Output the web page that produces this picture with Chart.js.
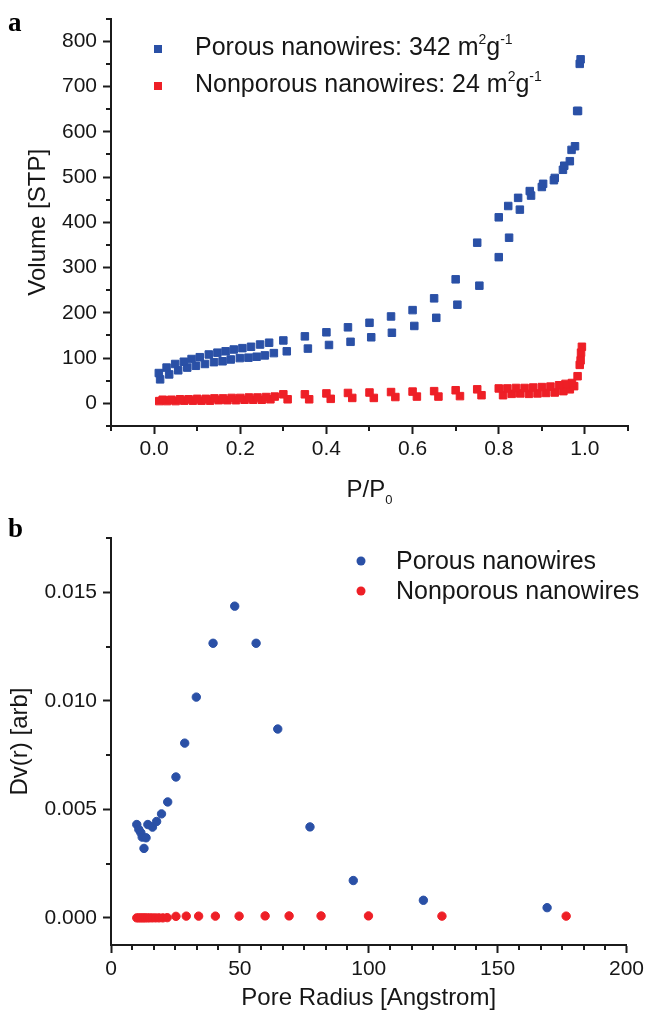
<!DOCTYPE html>
<html lang="en">
  <head>
    <meta charset="UTF-8" />
    <title>Nanowire N2 isotherms and pore size distribution</title>
    <script src="https://cdn.jsdelivr.net/npm/chart.js"></script>
    <style>
      body { margin: 0; background: #fff; }
      #wrap { position: relative; width: 648px; height: 1019px; }
      canvas { position: absolute; left: 0; }
      #isothermChart { top: 0; }
      #poreChart { top: 500px; }
    </style>
  </head>
  <body>
    <div id="wrap">
      <canvas id="isothermChart" width="648" height="520"></canvas>
      <canvas id="poreChart" width="648" height="519"></canvas>
    </div>
    <script>
      // --- panel a: N2 isotherms (P/P0 vs volume) ---
      const porousAdsP = [0.014, 0.035, 0.056, 0.077, 0.097, 0.118, 0.139, 0.159, 0.178, 0.199, 0.219, 0.238, 0.257, 0.278, 0.308, 0.357, 0.406, 0.456, 0.504, 0.552, 0.604, 0.655, 0.704, 0.755, 0.80, 0.824, 0.849, 0.875, 0.90, 0.928, 0.949, 0.965, 0.977, 0.984, 0.988];
      const porousAdsV = [53, 64, 73, 79, 83, 87, 91, 93, 97, 100, 101, 103, 106, 111, 115, 121, 129, 136, 146, 156, 171, 189, 218, 260, 323, 366, 428, 459, 478, 493, 516, 535, 568, 646, 750];
      const porousDesP = [0.99, 0.982, 0.969, 0.952, 0.93, 0.903, 0.872, 0.845, 0.822, 0.80, 0.75, 0.70, 0.65, 0.60, 0.55, 0.50, 0.45, 0.40, 0.35, 0.30, 0.267, 0.246, 0.225, 0.205, 0.185, 0.166, 0.147, 0.127, 0.106, 0.087, 0.069, 0.049, 0.029, 0.011];
      const porousDesV = [760, 646, 560, 525, 498, 485, 469, 454, 436, 411, 355, 274, 232, 206, 192, 178, 168, 157, 148, 139, 134, 130, 125, 122, 119, 115, 112, 108, 102, 98, 92, 87, 79, 67];

      const nonAdsP = [0.012, 0.03, 0.05, 0.07, 0.09, 0.11, 0.13, 0.15, 0.17, 0.19, 0.21, 0.23, 0.25, 0.27, 0.31, 0.36, 0.41, 0.46, 0.51, 0.56, 0.61, 0.66, 0.71, 0.76, 0.81, 0.83, 0.85, 0.87, 0.89, 0.91, 0.93, 0.95, 0.965, 0.975, 0.983, 0.988, 0.991];
      const nonAdsV = [5, 5, 5, 6, 6, 6, 6, 7, 7, 7, 8, 8, 8, 9, 9, 9, 10, 12, 12, 14, 15, 15, 16, 18, 18, 21, 22, 21, 22, 23, 24, 27, 31, 38, 60, 85, 112];
      const nonDesP = [0.993, 0.99, 0.97, 0.955, 0.94, 0.92, 0.90, 0.88, 0.86, 0.84, 0.82, 0.80, 0.75, 0.70, 0.65, 0.60, 0.55, 0.50, 0.45, 0.40, 0.35, 0.30, 0.28, 0.26, 0.24, 0.22, 0.20, 0.18, 0.16, 0.14, 0.12, 0.10, 0.08, 0.06, 0.04, 0.02];
      const nonDesV = [125, 95, 45, 43, 40, 37, 36, 35, 34, 34, 33, 33, 31, 29, 27, 26, 25, 24, 23, 22, 20, 20, 15, 14, 13, 13, 12, 12, 11, 11, 10, 10, 9, 9, 8, 8];

      const xTicksA = [0, 0.2, 0.4, 0.6, 0.8, 1.0];
      const yTicksA = [0, 100, 200, 300, 400, 500, 600, 700, 800];
      const legendA = [
        ["Porous nanowires: 342 m", "2", "g", "-1"],
        ["Nonporous nanowires: 24 m", "2", "g", "-1"],
      ];

      // --- panel b: pore size distribution ---
      const porousR = [10, 10.8, 11.6, 12.1, 12.8, 13.6, 14.3, 16.1, 17.7, 19.6, 22, 25.2, 28.6, 33.1, 39.6, 48, 56.3, 64.7, 77.2, 94, 121.2, 169.2];
      const porousDv = [0.0043, 0.00407, 0.00392, 0.00372, 0.0032, 0.00369, 0.0043, 0.00418, 0.00444, 0.00479, 0.00534, 0.00649, 0.00805, 0.01017, 0.01265, 0.01436, 0.01265, 0.0087, 0.00419, 0.00172, 0.00081, 0.00047];
      const nonR = [10, 10.8, 11.6, 12.4, 13.2, 14.1, 15, 16.1, 17.3, 18.6, 20.1, 21.8, 25.2, 29.2, 34, 40.5, 49.7, 59.8, 69.1, 81.5, 99.9, 128.4, 176.6];
      const nonDv = [0, 0, 0, 0, 0, 0, 0, 0, 0, 0, 0, 0.00001, 0.00007, 0.00008, 0.00008, 0.00008, 0.00008, 0.00009, 0.00009, 0.00009, 0.00009, 0.00008, 0.00008];

      const xTicksB = [0, 50, 100, 150, 200];
      const yTicksB = [0, 0.005, 0.01, 0.015];
      const legendB = [["Porous nanowires"], ["Nonporous nanowires"]];

      const BLUE = "#2a50a6";
      const RED = "#ee1f26";
      const AXIS = "#1b1b1b";
      const TEXT = "#161616";
      const SANS = '"Liberation Sans", Arial, sans-serif';

      const pts = (xs, ys) => xs.map((x, i) => ({ x: x, y: ys[i] }));

      // text with alternating normal / raised (or lowered) pieces
      function drawRich(ctx, parts, x, y, size, shift, align) {
        const small = Math.round(size * 0.56);
        const fontFor = (i) => (i % 2 ? small : size) + "px " + SANS;
        let total = 0;
        parts.forEach((p, i) => {
          ctx.font = fontFor(i);
          total += ctx.measureText(p).width;
        });
        let cx = align === "center" ? x - total / 2 : x;
        ctx.textBaseline = "alphabetic";
        ctx.textAlign = "left";
        parts.forEach((p, i) => {
          ctx.font = fontFor(i);
          ctx.fillText(p, cx, i % 2 ? y + shift : y);
          cx += ctx.measureText(p).width;
        });
      }

      const overlay = {
        id: "overlay",
        afterDraw(chart, args, opts) {
          const { ctx, chartArea, scales } = chart;
          ctx.save();
          // minor ticks
          ctx.strokeStyle = AXIS;
          ctx.lineWidth = 2;
          ctx.beginPath();
          opts.minorX.forEach((v) => {
            const px = Math.round(scales.x.getPixelForValue(v));
            ctx.moveTo(px, chartArea.bottom);
            ctx.lineTo(px, chartArea.bottom + 5);
          });
          opts.minorY.forEach((v) => {
            const py = Math.round(scales.y.getPixelForValue(v));
            ctx.moveTo(chartArea.left, py);
            ctx.lineTo(chartArea.left - 5, py);
          });
          ctx.stroke();

          // legend
          ctx.fillStyle = TEXT;
          opts.legend.forEach((parts, i) => {
            const ds = chart.data.datasets[i];
            const my = opts.legendY[i];
            ctx.fillStyle = ds.backgroundColor;
            ctx.beginPath();
            if (ds.pointStyle === "rect") {
              ctx.rect(opts.markerX - 4, my - 4, 8, 8);
            } else {
              ctx.arc(opts.markerX, my, 4.5, 0, Math.PI * 2);
            }
            ctx.fill();
            ctx.fillStyle = TEXT;
            drawRich(ctx, parts, opts.textX, opts.textY[i], 25, -11, "left");
          });

          // axis title with subscript
          if (opts.xTitle) {
            ctx.fillStyle = TEXT;
            drawRich(ctx, opts.xTitle, (chartArea.left + chartArea.right) / 2, opts.xTitleY, 24, 7, "center");
          }

          // panel letter
          ctx.fillStyle = "#000";
          ctx.font = 'bold 27px "Liberation Serif", "Times New Roman", serif';
          ctx.textAlign = "left";
          ctx.textBaseline = "alphabetic";
          ctx.fillText(opts.letter, 8, opts.letterY);
          ctx.restore();
        },
      };

      function axisOpts(extra) {
        return Object.assign(
          {
            type: "linear",
            grid: { display: true, drawOnChartArea: false, drawTicks: true, tickLength: 8, tickWidth: 2, tickColor: AXIS },
            border: { display: true, width: 2, color: AXIS },
          },
          extra
        );
      }

      const tickFont = { family: SANS, size: 21 };
      const titleFont = { family: SANS, size: 24 };

      new Chart(document.getElementById("isothermChart"), {
        type: "scatter",
        data: {
          datasets: [
            {
              label: "Porous nanowires: 342 m²g⁻¹",
              data: pts(porousAdsP, porousAdsV).concat(pts(porousDesP, porousDesV)),
              pointStyle: "rect",
              pointRadius: 5.3,
              borderWidth: 1,
              backgroundColor: BLUE,
              borderColor: BLUE,
            },
            {
              label: "Nonporous nanowires: 24 m²g⁻¹",
              data: pts(nonAdsP, nonAdsV).concat(pts(nonDesP, nonDesV)),
              pointStyle: "rect",
              pointRadius: 5.3,
              borderWidth: 1,
              backgroundColor: RED,
              borderColor: RED,
            },
          ],
        },
        options: {
          responsive: false,
          animation: false,
          layout: { padding: { left: 0, top: 17, right: 20, bottom: 0 } },
          plugins: {
            legend: { display: false },
            tooltip: { enabled: false },
            overlay: {
              minorX: [-0.1, 0.1, 0.3, 0.5, 0.7, 0.9, 1.1],
              minorY: [-50, 50, 150, 250, 350, 450, 550, 650, 750, 850],
              legend: legendA,
              markerX: 158,
              legendY: [49, 86],
              textX: 195,
              textY: [55, 92],
              xTitle: ["P/P", "0"],
              xTitleY: 497,
              letter: "a",
              letterY: 31,
            },
          },
          scales: {
            x: axisOpts({
              min: -0.1,
              max: 1.1,
              afterBuildTicks: (s) => { s.ticks = xTicksA.map((v) => ({ value: v })); },
              afterFit: (s) => { s.height = 94; },
              ticks: { padding: 3, font: tickFont, color: TEXT, maxRotation: 0, autoSkip: false, callback: (v) => Number(v).toFixed(1) },
            }),
            y: axisOpts({
              min: -50,
              max: 850,
              afterBuildTicks: (s) => { s.ticks = yTicksA.map((v) => ({ value: v })); },
              afterFit: (s) => { s.width = 111; },
              ticks: { padding: 6, font: tickFont, color: TEXT, autoSkip: false, callback: (v) => String(v) },
              title: { display: true, text: "Volume [STP]", font: titleFont, color: TEXT, padding: { top: 24, bottom: 0 } },
            }),
          },
        },
        plugins: [overlay],
      });

      new Chart(document.getElementById("poreChart"), {
        type: "scatter",
        data: {
          datasets: [
            {
              label: "Porous nanowires",
              data: pts(porousR, porousDv),
              pointStyle: "circle",
              pointRadius: 4.2,
              borderWidth: 1,
              backgroundColor: BLUE,
              borderColor: BLUE,
            },
            {
              label: "Nonporous nanowires",
              data: pts(nonR, nonDv),
              pointStyle: "circle",
              pointRadius: 4.2,
              borderWidth: 1,
              backgroundColor: RED,
              borderColor: RED,
            },
          ],
        },
        options: {
          responsive: false,
          animation: false,
          layout: { padding: { left: 0, top: 38, right: 20, bottom: 6 } },
          plugins: {
            legend: { display: false },
            tooltip: { enabled: false },
            overlay: {
              minorX: [8.33, 16.67, 25, 33.33, 41.67, 58.33, 66.67, 75, 83.33, 91.67, 108.33, 116.67, 125, 133.33, 141.67, 158.33, 166.67, 175, 183.33, 191.67],
              minorY: [0.0025, 0.0075, 0.0125, 0.0175],
              legend: legendB,
              markerX: 361,
              legendY: [61, 91],
              textX: 396,
              textY: [69, 99],
              xTitle: null,
              letter: "b",
              letterY: 37,
            },
          },
          scales: {
            x: axisOpts({
              min: 0,
              max: 200,
              afterBuildTicks: (s) => { s.ticks = xTicksB.map((v) => ({ value: v })); },
              afterFit: (s) => { s.height = 68; },
              ticks: { padding: 4, font: tickFont, color: TEXT, maxRotation: 0, autoSkip: false, callback: (v) => String(v) },
              title: { display: true, text: "Pore Radius [Angstrom]", font: titleFont, color: TEXT, padding: { top: 0, bottom: 0 } },
            }),
            y: axisOpts({
              min: -0.00125,
              max: 0.0175,
              afterBuildTicks: (s) => { s.ticks = yTicksB.map((v) => ({ value: v })); },
              afterFit: (s) => { s.width = 111; },
              ticks: { padding: 6, font: tickFont, color: TEXT, autoSkip: false, callback: (v) => Number(v).toFixed(3) },
              title: { display: true, text: "Dv(r) [arb]", font: titleFont, color: TEXT, padding: { top: 6, bottom: 0 } },
            }),
          },
        },
        plugins: [overlay],
      });
    </script>
  </body>
</html>
